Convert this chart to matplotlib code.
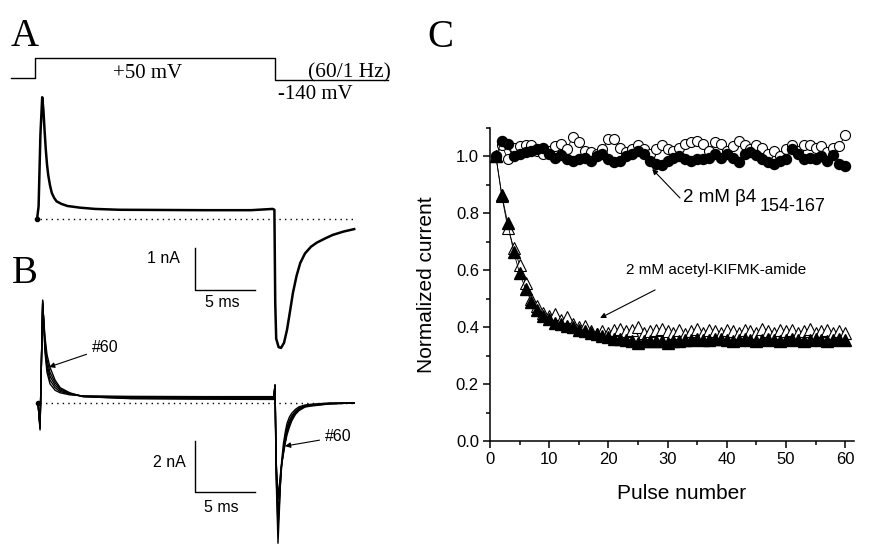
import matplotlib
matplotlib.use("Agg")
import matplotlib.pyplot as plt

plt.rcParams['font.family'] = ['Liberation Sans', 'DejaVu Sans']

# ---- panel A / B traces (time in ms, current in nA) ----
v_time = [-2.0, 0.0, 0.0, 20.0, 20.0, 29.4]
v_mV = [-120, -120, 50, 50, -140, -140]

a_time = [0.17, 0.3, 0.45, 0.6, 0.7, 0.8, 0.9, 1.0, 1.1, 1.25, 1.4, 1.6, 1.8, 2.2,
          2.7, 3.75, 5.0, 7.0, 14.0, 18.0, 19.8, 19.95, 20.02, 20.1, 20.3, 20.5,
          20.75, 21.0, 21.25, 21.5, 21.8, 22.1, 22.5, 23.0, 23.5, 24.2, 24.8,
          25.7, 26.6]
a_curr = [0, 0.3, 2.0, 2.9, 2.6, 2.1, 1.65, 1.3, 1.05, 0.8, 0.62, 0.5, 0.42, 0.36,
          0.31, 0.27, 0.24, 0.22, 0.21, 0.21, 0.24, 0.22, -2.0, -2.85, -3.05, -3.07,
          -2.95, -2.64, -2.2, -1.75, -1.35, -1.05, -0.82, -0.66, -0.56, -0.46, -0.38,
          -0.3, -0.24]

b_time = [0.25, 0.42, 0.64, 0.83, 1.0, 1.25, 1.67, 2.1, 2.9, 4.0, 8.0, 14.0, 19.9,
          20.0, 20.1, 20.25, 20.35, 20.45, 20.55, 20.7, 20.85, 21.0, 21.2, 21.4,
          21.7, 22.0, 22.5, 23.0, 24.5, 26.6]
b_curr = [
    [0, -1.06, 4.04, 2.0, 1.2, 0.75, 0.5, 0.4, 0.32, 0.28, 0.26, 0.25, 0.25,
     0.7, -3.0, -5.5, -4.4, -3.2, -2.3, -1.6, -1.15, -0.8, -0.55, -0.4, -0.25,
     -0.15, -0.08, -0.05, 0, 0],
    [0, -1.0, 4.0, 2.15, 1.35, 0.9, 0.6, 0.45, 0.35, 0.27, 0.23, 0.22, 0.22,
     0.7, -2.8, -4.9, -4.1, -3.2, -2.45, -1.8, -1.35, -0.95, -0.68, -0.5, -0.32,
     -0.2, -0.11, -0.07, -0.02, 0],
    [0, -0.95, 3.95, 2.3, 1.5, 1.05, 0.7, 0.5, 0.37, 0.26, 0.2, 0.19, 0.2,
     0.7, -2.6, -4.3, -3.8, -3.1, -2.5, -1.9, -1.45, -1.05, -0.75, -0.55, -0.36,
     -0.22, -0.12, -0.08, -0.02, 0],
    [0, -0.9, 3.9, 2.45, 1.7, 1.2, 0.8, 0.55, 0.38, 0.25, 0.18, 0.17, 0.17,
     0.7, -2.4, -3.8, -3.45, -2.9, -2.4, -1.95, -1.52, -1.15, -0.85, -0.62, -0.4,
     -0.25, -0.14, -0.1, -0.03, 0],
    [0, -0.9, 3.85, 2.6, 1.9, 1.4, 0.9, 0.6, 0.4, 0.25, 0.17, 0.15, 0.14,
     0.7, -2.3, -3.6, -3.3, -2.8, -2.4, -2.0, -1.6, -1.25, -0.95, -0.7, -0.45,
     -0.3, -0.16, -0.12, -0.04, 0],
]

# ---- panel C ----
pulse = list(range(1, 61))
control = [1.0, 1.04, 0.99, 1.03, 1.035, 1.04, 1.04, 1.02, 1.01, 1.02,
           1.035, 1.045, 1.025, 1.07, 1.05, 1.02, 1.015, 1.01, 1.025, 1.06,
           1.06, 1.03, 1.015, 1.025, 1.04, 1.025, 1.01, 1.025, 1.04, 1.025,
           1.02, 1.03, 1.045, 1.05, 1.055, 1.045, 1.02, 1.05, 1.045, 1.02,
           1.035, 1.055, 1.04, 1.025, 1.04, 1.03, 1.01, 1.02, 1.0, 1.025,
           1.04, 1.02, 1.04, 1.04, 1.03, 1.035, 1.015, 1.03, 1.035, 1.075]
beta4 = [1.0, 1.055, 1.045, 1.0, 1.01, 1.015, 1.02, 1.025, 1.03, 1.01,
         0.995, 1.005, 0.99, 0.985, 0.99, 0.995, 0.985, 1.0, 1.01, 0.99,
         0.98, 0.985, 1.0, 1.01, 1.02, 1.01, 0.985, 0.975, 0.97, 0.985,
         0.995, 1.0, 0.99, 0.985, 0.99, 0.99, 0.995, 1.01, 0.995, 1.01,
         0.995, 0.98, 1.01, 1.015, 1.005, 0.99, 0.98, 0.975, 0.985, 0.99,
         1.025, 1.01, 0.99, 0.995, 0.99, 1.0, 0.985, 1.005, 0.975, 0.965]
kifmk_open = [1.0, 0.86, 0.75, 0.68, 0.62, 0.555, 0.50, 0.475, 0.45, 0.44,
              0.445, 0.425, 0.435, 0.41, 0.40, 0.405, 0.385, 0.375, 0.385, 0.38,
              0.39, 0.395, 0.385, 0.39, 0.40, 0.38, 0.385, 0.39, 0.395, 0.385,
              0.38, 0.39, 0.375, 0.385, 0.395, 0.38, 0.39, 0.385, 0.38, 0.39,
              0.385, 0.38, 0.39, 0.385, 0.38, 0.395, 0.385, 0.38, 0.39, 0.385,
              0.39, 0.38, 0.385, 0.395, 0.38, 0.385, 0.39, 0.38, 0.385, 0.38]
kifmk_fill = [1.0, 0.865, 0.765, 0.665, 0.59, 0.535, 0.49, 0.46, 0.44, 0.43,
              0.415, 0.41, 0.405, 0.40, 0.39, 0.385, 0.38, 0.375, 0.37, 0.365,
              0.36, 0.36, 0.355, 0.35, 0.345, 0.35, 0.35, 0.35, 0.35, 0.345,
              0.35, 0.35, 0.355, 0.355, 0.36, 0.355, 0.355, 0.36, 0.36, 0.355,
              0.35, 0.355, 0.36, 0.355, 0.35, 0.355, 0.36, 0.355, 0.35, 0.355,
              0.36, 0.355, 0.35, 0.355, 0.36, 0.355, 0.35, 0.355, 0.36, 0.355]

fig = plt.figure(figsize=(8.7, 5.47), dpi=100)
serif = 'Liberation Serif'

# voltage protocol
axV = fig.add_axes([0, 447 / 547, 420 / 870, 60 / 547])
axV.plot(v_time, v_mV, color='k', lw=1.0)
axV.set_xlim(-35 / 12, 385 / 12)
axV.set_ylim(-312.7, 205.4)
axV.text(9.42, -88, '+50 mV', family=serif, fontsize=15, ha='center', va='center')
axV.text(26.2, -80, '(60/1 Hz)', family=serif, fontsize=15.5, ha='center', va='center')
axV.text(20.25, -269, '-140 mV', family=serif, fontsize=15, ha='left', va='center')
axV.axis('off')

# panel A
axA = fig.add_axes([0, 187 / 547, 420 / 870, 360 / 547])
axA.set_facecolor('none')
axA.plot(a_time, a_curr, color='k', lw=1.8)
axA.plot(a_time[0], a_curr[0], 'o', color='k', ms=3)
axA.plot([0.4, 26.7], [0, 0], color='k', lw=1.0, ls=(0, (1, 3)))
axA.plot([13.33, 13.33, 18.33], [-0.69, -1.69, -1.69], color='k', lw=1.0)
axA.text(12.1, -0.95, '1 nA', fontsize=11.5, ha='right', va='center')
axA.text(15.6, -1.98, '5 ms', fontsize=11.5, ha='center', va='center')
axA.set_xlim(-35 / 12, 385 / 12)
axA.set_ylim(-141 / 42, 219 / 42)
axA.axis('off')

# panel B
axB = fig.add_axes([0, 0, 420 / 870, 317 / 547])
axB.set_facecolor('none')
for cur in b_curr:
    axB.plot(b_time, cur, color='k', lw=1.0)
axB.plot(b_time[0], 0, 'o', color='k', ms=3)
axB.plot([0.4, 26.7], [0, 0], color='k', lw=1.0, ls=(0, (1, 3)))
axB.plot([13.33, 13.33, 18.33], [-1.49, -3.49, -3.49], color='k', lw=1.0)
axB.text(12.6, -2.35, '2 nA', fontsize=11.5, ha='right', va='center')
axB.text(15.5, -4.08, '5 ms', fontsize=11.5, ha='center', va='center')
axB.annotate('#60', xy=(1.17, 1.41), xytext=(4.75, 2.16), fontsize=11.5,
             ha='left', va='center',
             arrowprops=dict(arrowstyle='-|>', color='k', lw=0.8, mutation_scale=8,
                             shrinkA=2, shrinkB=0))
axB.annotate('#60', xy=(20.83, -1.69), xytext=(24.17, -1.33), fontsize=11.5,
             ha='left', va='center',
             arrowprops=dict(arrowstyle='-|>', color='k', lw=0.8, mutation_scale=8,
                             shrinkA=2, shrinkB=0))
axB.set_xlim(-35 / 12, 385 / 12)
axB.set_ylim(-144 / 25.5, 173 / 25.5)
axB.axis('off')

# panel C
axC = fig.add_axes([490 / 870, 106 / 547, 364 / 870, 313 / 547])
axC.plot(pulse, control, '-o', color='k', lw=0.6, ms=7.2, mfc='white', mec='k', mew=0.8)
axC.plot(pulse, beta4, '-o', color='k', lw=0.6, ms=7.2, mfc='k', mec='k')
axC.plot(pulse, kifmk_open, '-^', color='k', lw=0.6, ms=9, mfc='white', mec='k', mew=0.8)
axC.plot(pulse, kifmk_fill, '-^', color='k', lw=0.6, ms=9, mfc='k', mec='k')
axC.set_xlim(0, 61.5)
axC.set_ylim(0, 1.1)
axC.set_xticks(range(0, 61, 10))
axC.set_xticks(range(5, 61, 10), minor=True)
axC.set_yticks([0.0, 0.2, 0.4, 0.6, 0.8, 1.0])
axC.set_yticks([0.1, 0.3, 0.5, 0.7, 0.9, 1.1], minor=True)
axC.set_yticklabels(['0.0', '0.2', '0.4', '0.6', '0.8', '1.0'])
axC.spines['top'].set_visible(False)
axC.spines['right'].set_visible(False)
for s in ['left', 'bottom']:
    axC.spines[s].set_linewidth(1.1)
axC.tick_params(which='major', length=5, width=1.1, labelsize=12, pad=3)
axC.tick_params(which='minor', length=3, width=1.1)
axC.set_xlabel('Pulse number', fontsize=15)
axC.set_ylabel('Normalized current', fontsize=15)
axC.xaxis.set_label_coords(0.527, -0.137)
axC.yaxis.set_label_coords(-0.148, 0.5)

axC.annotate('', xy=(27.4, 0.956), xytext=(32.1, 0.854),
             arrowprops=dict(arrowstyle='-|>', color='k', lw=0.8, mutation_scale=8,
                             shrinkA=0, shrinkB=0))
axC.text(32.6, 0.84, '2 mM \u03b24', fontsize=13.5, ha='left', va='baseline')
axC.text(45.5, 0.81, '154-167', fontsize=13, ha='left', va='baseline')
axC.annotate('', xy=(18.6, 0.432), xytext=(27.9, 0.531),
             arrowprops=dict(arrowstyle='-|>', color='k', lw=0.8, mutation_scale=8,
                             shrinkA=0, shrinkB=0))
axC.text(23.0, 0.60, '2 mM acetyl-KIFMK-amide', fontsize=11, ha='left', va='center')

# panel letters
fig.text(11 / 870, 501 / 547, 'A', family=serif, fontsize=28, va='baseline')
fig.text(12 / 870, 264 / 547, 'B', family=serif, fontsize=28, va='baseline')
fig.text(427 / 870, 500 / 547, 'C', family=serif, fontsize=28, va='baseline')

fig.savefig('out.png', dpi=100)
